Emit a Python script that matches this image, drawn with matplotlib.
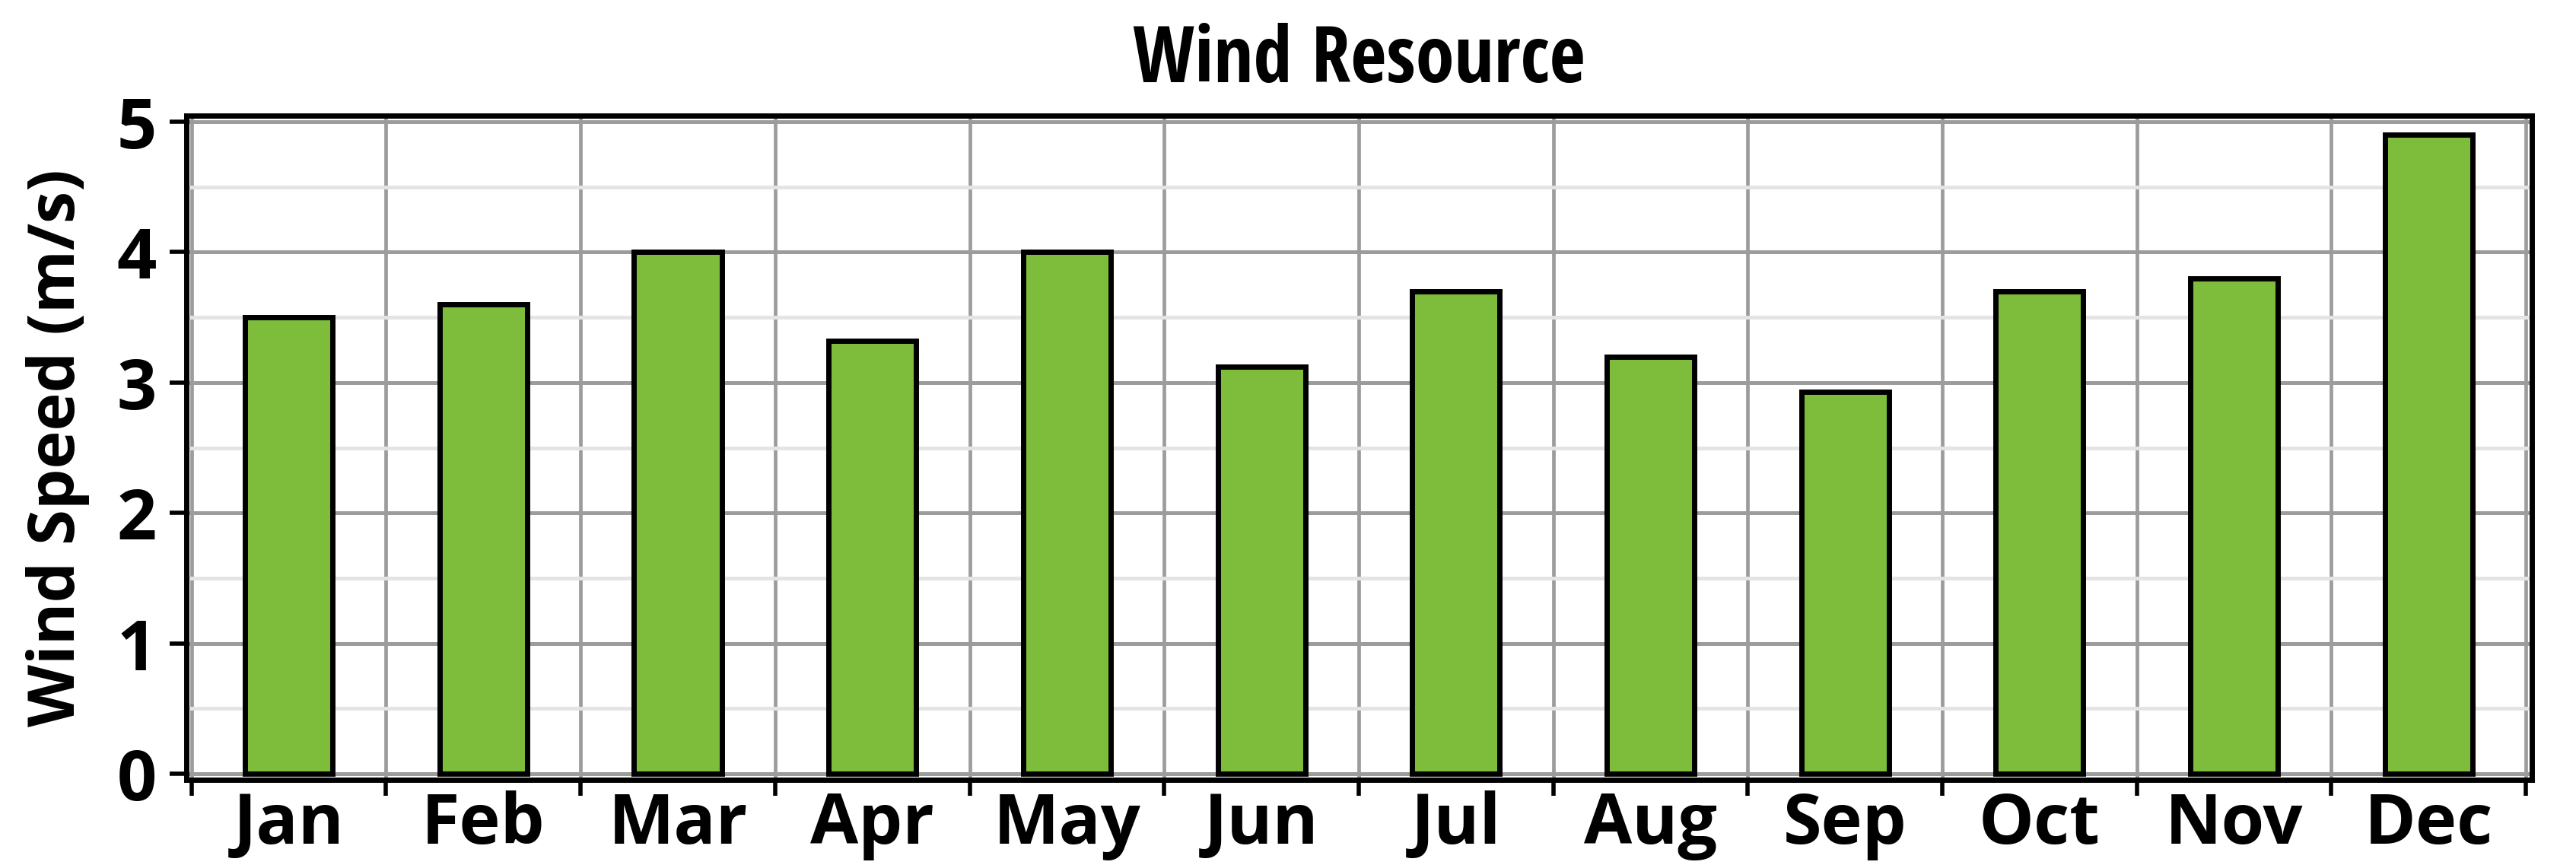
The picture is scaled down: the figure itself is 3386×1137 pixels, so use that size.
import numpy as np
import matplotlib
matplotlib.use("Agg")
import matplotlib.pyplot as plt
from matplotlib import font_manager

months = ['Jan', 'Feb', 'Mar', 'Apr', 'May', 'Jun',
          'Jul', 'Aug', 'Sep', 'Oct', 'Nov', 'Dec']
wind_speed = [3.5, 3.6, 4.0, 3.32, 4.0, 3.12, 3.7, 3.2, 2.93, 3.7, 3.8, 4.9]
y_ticks = [0, 1, 2, 3, 4, 5]

names = {f.name for f in font_manager.fontManager.ttflist}
# normal width face for ticks / ylabel, narrower one for the title
base = [n for n in ['Open Sans', 'DejaVu Sans'] if n in names]
narrow = [n for n in ['Open Sans Condensed', 'Roboto Condensed',
                      'Liberation Sans Narrow'] if n in names] + base
plt.rcParams['font.family'] = base
plt.rcParams['font.weight'] = 'bold'

fig = plt.figure(figsize=(33.87, 11.37), dpi=100)
ax = fig.add_axes([0.0723, 0.0985, 0.9103, 0.7678])

x = np.arange(len(months))
ax.bar(x, wind_speed, width=0.45, color='#7dbd3b', edgecolor='black',
       linewidth=5, zorder=3)

ax.set_xlim(-0.527, len(months) - 0.5 + 0.031)
ax.set_ylim(-0.047, 5.047)

# category boundaries carry the tick marks and vertical grid
ax.set_xticks(np.arange(-0.5, len(months), 1.0))
ax.set_xticklabels([])
ax.set_xticks(x, minor=True)
ax.set_xticklabels(months, minor=True)
ax.tick_params(axis='x', which='major', direction='out', length=15, width=4)
ax.tick_params(axis='x', which='minor', length=0, pad=10, labelsize=66)

ax.set_yticks(y_ticks)
ax.set_yticks(np.arange(0.5, 5, 1.0), minor=True)
ax.tick_params(axis='y', which='major', direction='out', length=16, width=4,
               pad=12, labelsize=66)
ax.tick_params(axis='y', which='minor', length=0)

ax.grid(True, axis='x', which='major', color='#9c9c9c', linewidth=3.4, zorder=0)
ax.grid(True, axis='y', which='major', color='#9c9c9c', linewidth=3.6, zorder=0)
ax.grid(True, axis='y', which='minor', color='#e4e4e4', linewidth=3.6, zorder=0)
ax.set_axisbelow(True)

for s in ax.spines.values():
    s.set_linewidth(5)
    s.set_zorder(4)

ax.set_title('Wind Resource', fontsize=74, fontweight='bold', pad=32,
             family=narrow)
ax.set_ylabel('Wind Speed (m/s)', fontsize=61, fontweight='bold', labelpad=26)

fig.savefig('out.png', dpi=100)
